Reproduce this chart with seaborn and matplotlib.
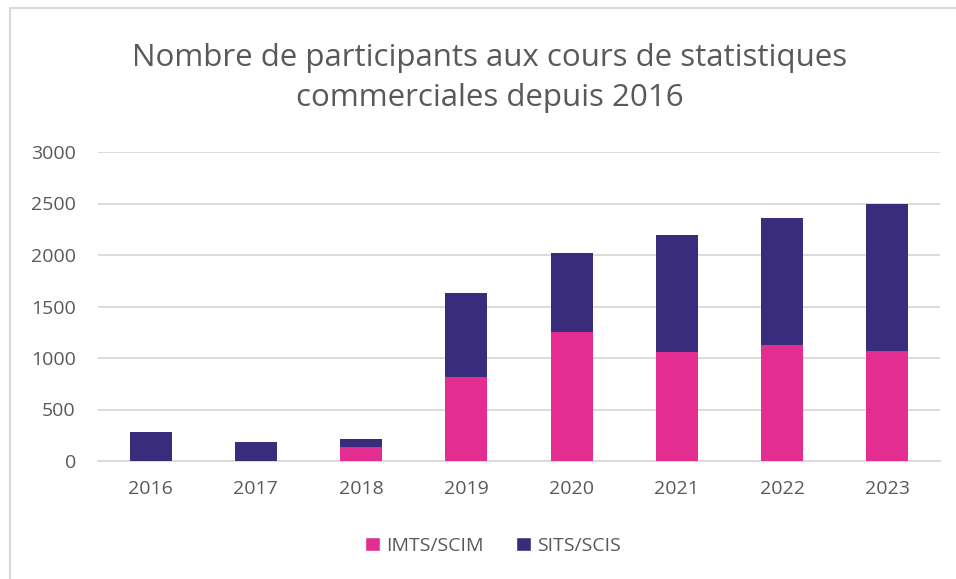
import matplotlib
matplotlib.use("Agg")
import matplotlib.pyplot as plt
from matplotlib.lines import Line2D
from matplotlib.patches import Patch
import seaborn as sns
import pandas as pd

years = ["2016", "2017", "2018", "2019", "2020", "2021", "2022", "2023"]
imts_scim = [0, 0, 135, 815, 1250, 1055, 1127, 1068]
sits_scis = [285, 185, 83, 812, 766, 1143, 1234, 1432]
yticks = [0, 500, 1000, 1500, 2000, 2500, 3000]
title = "Nombre de participants aux cours de statistiques\ncommerciales depuis 2016"
series_names = ["IMTS/SCIM", "SITS/SCIS"]

pink = "#E32D91"
purple = "#3A2C7D"
txt = "#595959"
grid = "#D9D9D9"

sns.set_theme(style="white")
plt.rcParams["font.family"] = ["Open Sans", "DejaVu Sans"]

df = pd.DataFrame({"year": years, "imts": imts_scim, "sits": sits_scis})
df["total"] = df["imts"] + df["sits"]

W, H = 956, 579
fig = plt.figure(figsize=(W / 100, H / 100), dpi=100)
ax = fig.add_axes([98 / W, 1 - 461 / H, (940 - 98) / W, (461 - 152) / H])

sns.barplot(data=df, x="year", y="total", color=purple, width=0.4,
            saturation=1, ax=ax, zorder=3, linewidth=0, edgecolor="none")
sns.barplot(data=df, x="year", y="imts", color=pink, width=0.4,
            saturation=1, ax=ax, zorder=4, linewidth=0, edgecolor="none")

ax.set_ylim(0, 3000)
ax.set_yticks(yticks)
ax.set_xlim(-0.5, len(years) - 0.5)
ax.yaxis.grid(True, color=grid, linewidth=1.3, zorder=0)
ax.set_axisbelow(True)
for s in ["top", "right", "left"]:
    ax.spines[s].set_visible(False)
ax.spines["bottom"].set_color(grid)
ax.spines["bottom"].set_linewidth(1.3)
ax.set_xlabel("")
ax.set_ylabel("")
ax.tick_params(axis="both", length=0, labelsize=14, colors=txt)
ax.tick_params(axis="y", pad=16)
ax.tick_params(axis="x", pad=14)

fig.text(490 / W, 1 - 78 / H, title, ha="center", va="center",
         fontsize=22.5, color=txt, linespacing=1.45)

handles = [Patch(facecolor=pink), Patch(facecolor=purple)]
fig.legend(handles, series_names, loc="center", bbox_to_anchor=(493 / W, 1 - 546 / H),
           ncol=2, frameon=False, fontsize=14, labelcolor=txt,
           handlelength=0.75, handleheight=0.75, handletextpad=0.3, columnspacing=1.7)

# chart frame (partially visible)
fig.add_artist(Line2D([9.5 / W, 9.5 / W], [0, 1 - 7.5 / H], transform=fig.transFigure,
                      color="#D9D9D9", linewidth=1.5))
fig.add_artist(Line2D([9.5 / W, 1], [1 - 7.5 / H, 1 - 7.5 / H], transform=fig.transFigure,
                      color="#D9D9D9", linewidth=1.5))

fig.savefig("out.png", dpi=100, facecolor="white")
